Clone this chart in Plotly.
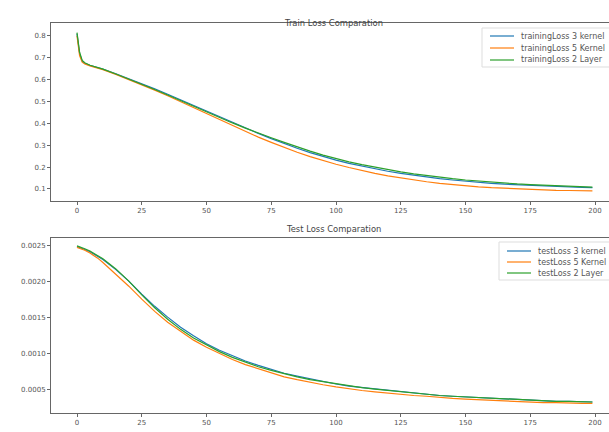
import plotly.graph_objects as go

# ---- data ----
epochs = [0, 1, 2, 3, 5, 8, 10, 15, 20, 25, 30, 35, 40, 45, 50, 55, 60, 65, 70, 75,
          80, 85, 90, 95, 100, 105, 110, 115, 120, 125, 130, 135, 140, 145, 150,
          155, 160, 165, 170, 175, 180, 185, 190, 195, 199]

train_3_kernel = [0.81, 0.72, 0.685, 0.675, 0.665, 0.655, 0.648, 0.627, 0.605, 0.582,
                  0.558, 0.533, 0.507, 0.481, 0.455, 0.429, 0.404, 0.379, 0.354, 0.33,
                  0.307, 0.286, 0.266, 0.248, 0.232, 0.217, 0.204, 0.192, 0.181, 0.171,
                  0.162, 0.154, 0.147, 0.141, 0.135, 0.13, 0.126, 0.122, 0.119, 0.116,
                  0.113, 0.111, 0.109, 0.107, 0.106]
train_5_kernel = [0.80, 0.71, 0.68, 0.672, 0.663, 0.653, 0.646, 0.624, 0.601, 0.577,
                  0.552, 0.526, 0.499, 0.472, 0.444, 0.416, 0.389, 0.362, 0.337, 0.313,
                  0.29, 0.268, 0.248, 0.23, 0.213, 0.198, 0.184, 0.171, 0.16, 0.15,
                  0.141, 0.133, 0.126, 0.12, 0.115, 0.11, 0.106, 0.103, 0.1, 0.098,
                  0.096, 0.094, 0.093, 0.092, 0.091]
train_2_layer = [0.815, 0.725, 0.688, 0.677, 0.666, 0.656, 0.648, 0.626, 0.603, 0.579,
                 0.555, 0.53, 0.504, 0.478, 0.452, 0.427, 0.402, 0.378, 0.355, 0.334,
                 0.313, 0.292, 0.273, 0.255, 0.239, 0.224, 0.211, 0.199, 0.188, 0.178,
                 0.169, 0.161, 0.154, 0.147, 0.141, 0.136, 0.131, 0.127, 0.123, 0.12,
                 0.117, 0.114, 0.112, 0.11, 0.108]

test_3_kernel = [0.00248, 0.00247, 0.00246, 0.00244, 0.00241, 0.00235, 0.0023, 0.00216,
                 0.002, 0.00182, 0.00165, 0.0015, 0.00136, 0.00124, 0.00113, 0.00104,
                 0.00096, 0.00089, 0.00083, 0.00077, 0.00072, 0.00068, 0.00064, 0.0006,
                 0.00057, 0.00054, 0.00052, 0.0005, 0.00048, 0.00046, 0.00044, 0.00043,
                 0.00041, 0.0004, 0.00039, 0.00038, 0.00037, 0.00036, 0.00035, 0.00034,
                 0.00034, 0.00033, 0.00033, 0.00032, 0.00032]
test_5_kernel = [0.00247, 0.00246, 0.00245, 0.00243, 0.00239, 0.00232, 0.00226, 0.0021,
                 0.00193, 0.00175, 0.00158, 0.00143, 0.0013, 0.00118, 0.00108, 0.00099,
                 0.00091, 0.00084, 0.00078, 0.00072, 0.00067, 0.00063, 0.00059, 0.00056,
                 0.00053, 0.0005, 0.00048, 0.00046, 0.00044, 0.00042, 0.00041, 0.0004,
                 0.00038, 0.00037, 0.00036, 0.00035, 0.00034, 0.00033, 0.00033, 0.00032,
                 0.00031, 0.00031, 0.0003, 0.0003, 0.0003]
test_2_layer = [0.00249, 0.00248, 0.00247, 0.00245, 0.00242, 0.00236, 0.00231, 0.00217,
                0.002, 0.00181, 0.00163, 0.00147, 0.00133, 0.00121, 0.00111, 0.00102,
                0.00094, 0.00087, 0.00081, 0.00076, 0.00071, 0.00067, 0.00063, 0.0006,
                0.00057, 0.00054, 0.00052, 0.0005, 0.00048, 0.00046, 0.00044, 0.00043,
                0.00041, 0.0004, 0.00039, 0.00038, 0.00037, 0.00036, 0.00035, 0.00034,
                0.00034, 0.00033, 0.00033, 0.00032, 0.00032]

train_names = ["trainingLoss 3 kernel", "trainingLoss 5 Kernel", "trainingLoss 2 Layer"]
test_names = ["testLoss 3 kernel", "testLoss 5 Kernel", "testLoss 2 Layer"]
x_ticks = [0, 25, 50, 75, 100, 125, 150, 175, 200]
train_yticks = [0.1, 0.2, 0.3, 0.4, 0.5, 0.6, 0.7, 0.8]
test_yticks = [0.0005, 0.0010, 0.0015, 0.0020, 0.0025]

colors = ["#1f77b4", "#ff7f0e", "#2ca02c"]

W, H = 609, 432
FONT = "DejaVu Sans"
AX = "#666666"
TXT = "#555555"

fig = go.Figure()
for name, ys, c in zip(train_names, [train_3_kernel, train_5_kernel, train_2_layer], colors):
    fig.add_trace(go.Scatter(x=epochs, y=ys, mode="lines", name=name,
                             line=dict(color=c, width=1.2), xaxis="x", yaxis="y",
                             showlegend=False))
for name, ys, c in zip(test_names, [test_3_kernel, test_5_kernel, test_2_layer], colors):
    fig.add_trace(go.Scatter(x=epochs, y=ys, mode="lines", name=name,
                             line=dict(color=c, width=1.2), xaxis="x2", yaxis="y2",
                             showlegend=False))

left_px = 51
x0_px, x200_px = 77, 595
ppu = (x200_px - x0_px) / 200.0
xr = [(left_px - x0_px) / ppu, 200 + (W - x0_px - 200 * ppu) / ppu]


def py(v):
    return 1 - v / H


def px(v):
    return v / W


axis_common = dict(showgrid=False, zeroline=False, showline=True, linecolor=AX, linewidth=1,
                   ticks="outside", ticklen=3, tickwidth=1, tickcolor=AX,
                   tickfont=dict(family=FONT, size=7, color=TXT))

shapes = []
annotations = [
    dict(text="Train Loss Comparation", x=px(333), y=py(16), xref="paper", yref="paper",
         showarrow=False, font=dict(family=FONT, size=8.4, color="#444444")),
    dict(text="Test Loss Comparation", x=px(333), y=py(229), xref="paper", yref="paper",
         showarrow=False, font=dict(family=FONT, size=8.4, color="#444444")),
]


def add_legend(names, box_left, box_top, line_x0, line_x1, text_x, row0, step):
    n = len(names)
    shapes.append(dict(type="rect", xref="paper", yref="paper", layer="above",
                       x0=px(box_left), x1=px(W + 10), y0=py(box_top),
                       y1=py(row0 + step * (n - 1) + 7),
                       line=dict(color="#dddddd", width=1), fillcolor="white"))
    for i, (nm, c) in enumerate(zip(names, colors)):
        yy = row0 + step * i
        shapes.append(dict(type="line", xref="paper", yref="paper", layer="above",
                           x0=px(line_x0), x1=px(line_x1), y0=py(yy), y1=py(yy),
                           line=dict(color=c, width=1.2)))
        annotations.append(dict(text=nm, x=px(text_x), y=py(yy), xref="paper", yref="paper",
                                xanchor="left", yanchor="middle", showarrow=False,
                                font=dict(family=FONT, size=8, color=TXT)))


add_legend(train_names, 482, 28, 490, 514, 519, 36, 12)
add_legend(test_names, 499, 242, 507, 531, 536, 251, 11)

fig.update_layout(
    width=W, height=H, margin=dict(l=0, r=0, t=0, b=0),
    paper_bgcolor="white", plot_bgcolor="white", showlegend=False,
    xaxis=dict(domain=[px(left_px), 1], range=xr, tickvals=x_ticks, anchor="y",
               mirror=True, **axis_common),
    yaxis=dict(domain=[py(201), py(23)], range=[0.045, 0.859], tickvals=train_yticks,
               tickformat=".1f", anchor="x", **axis_common),
    xaxis2=dict(domain=[px(left_px), 1], range=xr, tickvals=x_ticks, anchor="y2",
                mirror=True, **axis_common),
    yaxis2=dict(domain=[py(413), py(238)], range=[0.000167, 0.0026], tickvals=test_yticks,
                tickformat=".4f", anchor="x2", **axis_common),
    shapes=shapes,
    annotations=annotations,
)

fig.write_html("out.html")
